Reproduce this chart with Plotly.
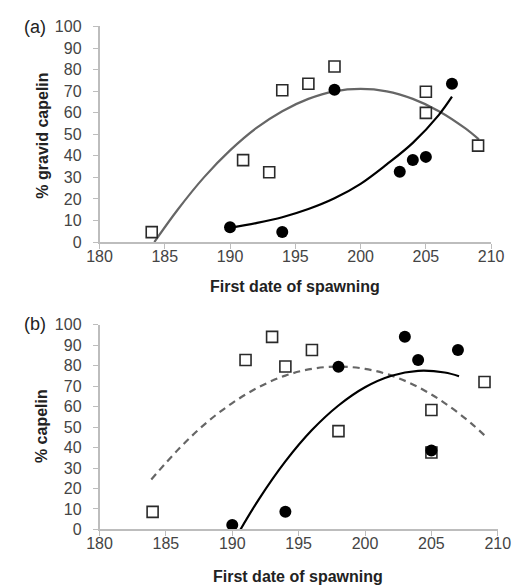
import plotly.graph_objects as go

# ---------------- data ----------------
# Panel (a): % gravid capelin
a_sq_x = [184, 191, 193, 194, 196, 198, 205, 205, 209]
a_sq_y = [4.6, 38, 32.4, 70.4, 73.4, 81.4, 69.7, 59.9, 44.7]
a_ci_x = [190, 194, 198, 203, 204, 205, 207]
a_ci_y = [6.9, 4.6, 70.6, 32.6, 38.1, 39.5, 73.4]
# trend lines
a_gray_x = [184.2, 186, 188, 190, 192, 194, 196, 198, 200, 202, 204, 206, 208, 209.06]
a_gray_y = [0, 15.1, 30.0, 42.5, 52.8, 60.7, 66.4, 69.9, 71, 69.9, 66.4, 60.7, 52.8, 47.6]
a_black_x = [190, 192, 194, 196, 198, 200, 202, 204, 206, 207]
a_black_y = [6.6, 8.8, 11.5, 15.3, 20.3, 27, 36, 46, 59, 67.4]

# Panel (b): % capelin
b_sq_x = [184, 191, 193, 194, 196, 198, 205, 205, 209]
b_sq_y = [8.6, 82.7, 94, 79.5, 87.6, 48.0, 58.3, 37.6, 72]
b_ci_x = [190, 194, 198, 203, 204, 205, 207]
b_ci_y = [2.2, 8.6, 79.4, 94, 82.7, 38.6, 87.6]
b_dash_x = [183.9, 186, 188, 190, 192, 194, 196, 198, 200, 202, 204, 206, 208, 209.1]
b_dash_y = [24.4, 39.5, 51.8, 61.7, 69.5, 75.1, 78.4, 79.5, 78.4, 75.1, 69.5, 61.7, 51.8, 45.3]
b_black_x = [190.62, 192, 194, 196, 198, 200, 202, 204, 206, 207.08]
b_black_y = [0, 14.7, 33.2, 48.5, 60.5, 69.4, 75.0, 77.4, 76.6, 74.8]

x_ticks = [180, 185, 190, 195, 200, 205, 210]
y_ticks = [0, 10, 20, 30, 40, 50, 60, 70, 80, 90, 100]

# ---------------- figure ----------------
W, H = 526, 588
fig = go.Figure()

GRAY = "#666666"
SQ = dict(symbol="square", size=11, color="white", line=dict(color="#2a2a2a", width=1.6))
CI = dict(symbol="circle", size=12, color="black", line=dict(color="black", width=0))

def add_panel(xa, ya, gx, gy, gdash, gcol, bx, by, sx, sy, cx, cy):
    fig.add_trace(go.Scatter(x=gx, y=gy, mode="lines", line=dict(color=gcol, width=2.2, dash=gdash, shape="spline"),
                             xaxis=xa, yaxis=ya, showlegend=False, hoverinfo="skip"))
    fig.add_trace(go.Scatter(x=bx, y=by, mode="lines", line=dict(color="black", width=2.2, shape="spline"),
                             xaxis=xa, yaxis=ya, showlegend=False, hoverinfo="skip"))
    fig.add_trace(go.Scatter(x=sx, y=sy, mode="markers", marker=SQ, xaxis=xa, yaxis=ya,
                             showlegend=False, cliponaxis=False))
    fig.add_trace(go.Scatter(x=cx, y=cy, mode="markers", marker=CI, xaxis=xa, yaxis=ya,
                             showlegend=False, cliponaxis=False))

add_panel("x", "y", a_gray_x, a_gray_y, "solid", GRAY, a_black_x, a_black_y, a_sq_x, a_sq_y, a_ci_x, a_ci_y)
add_panel("x2", "y2", b_dash_x, b_dash_y, "7px,5px", GRAY, b_black_x, b_black_y, b_sq_x, b_sq_y, b_ci_x, b_ci_y)

TICKFONT = dict(family="Liberation Sans, Arial, sans-serif", size=16, color="#444444")
axis_common = dict(showgrid=False, zeroline=False, showline=True, linecolor="#bdbdbd", linewidth=1.5,
                   ticks="outside", ticklen=5, tickcolor="#bdbdbd", tickwidth=1.2, tickfont=TICKFONT)
xa_extra = dict(ticklabelstandoff=-6)
ya_extra = dict(ticklabelstandoff=8)

def px_x(p):
    return p / W

def px_y(p):
    return 1 - p / H

fig.update_layout(
    width=W, height=H, margin=dict(l=0, r=0, t=0, b=0),
    paper_bgcolor="white", plot_bgcolor="white",
    xaxis=dict(domain=[px_x(91), px_x(503)], range=[180, 210], tickvals=x_ticks, anchor="y", **axis_common, **xa_extra),
    yaxis=dict(domain=[px_y(241), px_y(19)], range=[0, 100], tickvals=y_ticks, anchor="x", **axis_common, **ya_extra),
    xaxis2=dict(domain=[px_x(91), px_x(510)], range=[180, 210], tickvals=x_ticks, anchor="y2", **axis_common, **xa_extra),
    yaxis2=dict(domain=[px_y(537), px_y(326)], range=[0, 100], tickvals=y_ticks, anchor="x2", **axis_common, **ya_extra),
)

TITLEFONT = dict(family="Liberation Sans, Arial, sans-serif", size=16, color="#222222")
LABFONT = dict(family="Liberation Sans, Arial, sans-serif", size=18, color="#222222")
ann = [
    dict(text="<b>First date of spawning</b>", x=px_x(297), y=px_y(287), font=TITLEFONT),
    dict(text="<b>First date of spawning</b>", x=px_x(300), y=px_y(585), font=TITLEFONT),
    dict(text="<b>% gravid capelin</b>", x=px_x(31), y=px_y(131), font=TITLEFONT, textangle=-90),
    dict(text="<b>% capelin</b>", x=px_x(30), y=px_y(431), font=TITLEFONT, textangle=-90),
    dict(text="(a)", x=px_x(23), y=px_y(20), font=LABFONT),
    dict(text="(b)", x=px_x(23), y=px_y(325), font=LABFONT),
]
for a in ann:
    fig.add_annotation(xref="paper", yref="paper", showarrow=False, xanchor="center", yanchor="middle", **a)

fig.write_html("out.html")
